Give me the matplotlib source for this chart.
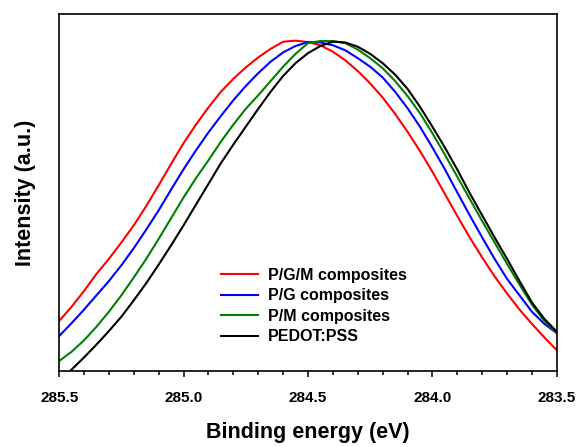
import numpy as np
import matplotlib.pyplot as plt

plt.rcParams['font.family'] = ['Liberation Sans', 'DejaVu Sans']
plt.rcParams['font.weight'] = 'bold'

# binding energy (eV), 0.05 eV step from 285.5 down to 283.5
energy = [285.50, 285.45, 285.40, 285.35, 285.30, 285.25, 285.20, 285.15, 285.10, 285.05,
          285.00, 284.95, 284.90, 284.85, 284.80, 284.75, 284.70, 284.65, 284.60, 284.55,
          284.50, 284.45, 284.40, 284.35, 284.30, 284.25, 284.20, 284.15, 284.10, 284.05,
          284.00, 283.95, 283.90, 283.85, 283.80, 283.75, 283.70, 283.65, 283.60, 283.55,
          283.50]

# normalised intensities
pgm = [0.140, 0.180, 0.224, 0.272, 0.314, 0.360, 0.408, 0.462, 0.520, 0.580,
       0.638, 0.690, 0.738, 0.782, 0.818, 0.850, 0.878, 0.902, 0.922, 0.925,
       0.921, 0.912, 0.894, 0.870, 0.840, 0.805, 0.766, 0.720, 0.670, 0.616,
       0.558, 0.496, 0.434, 0.374, 0.318, 0.265, 0.217, 0.172, 0.132, 0.094,
       0.058]
pg = [0.098, 0.134, 0.172, 0.212, 0.252, 0.296, 0.344, 0.396, 0.450, 0.508,
      0.565, 0.618, 0.668, 0.714, 0.758, 0.798, 0.834, 0.866, 0.892, 0.910,
      0.921, 0.920, 0.912, 0.898, 0.876, 0.852, 0.822, 0.782, 0.736, 0.684,
      0.626, 0.565, 0.500, 0.436, 0.374, 0.314, 0.258, 0.212, 0.166, 0.132,
      0.106]
pm = [0.028, 0.054, 0.086, 0.124, 0.166, 0.212, 0.262, 0.314, 0.370, 0.428,
      0.486, 0.540, 0.590, 0.642, 0.690, 0.734, 0.772, 0.812, 0.852, 0.888,
      0.918, 0.924, 0.924, 0.918, 0.900, 0.876, 0.848, 0.812, 0.770, 0.722,
      0.666, 0.606, 0.544, 0.482, 0.420, 0.360, 0.300, 0.242, 0.186, 0.140,
      0.106]
pedot = [-0.030, 0.004, 0.038, 0.074, 0.112, 0.152, 0.198, 0.246, 0.298, 0.352,
         0.408, 0.466, 0.524, 0.582, 0.634, 0.684, 0.734, 0.782, 0.826, 0.862,
         0.890, 0.910, 0.922, 0.920, 0.908, 0.888, 0.862, 0.830, 0.790, 0.740,
         0.684, 0.626, 0.564, 0.498, 0.436, 0.374, 0.314, 0.252, 0.192, 0.146,
         0.110]

labels = ['P/G/M composites', 'P/G composites', 'P/M composites', 'PEDOT:PSS']
colors = ['#ff0000', '#0000ff', '#008000', '#000000']

fig = plt.figure(figsize=(5.8, 4.47), dpi=100)
ax = fig.add_axes([0.102, 0.170, 0.858, 0.799])

for y, lab, c in zip([pgm, pg, pm, pedot], labels, colors):
    ax.plot(energy, y, color=c, linewidth=1.5, label=lab)

ax.set_xlim(285.5, 283.5)
ax.set_ylim(0, 1)
ax.set_xticks([285.5, 285.0, 284.5, 284.0, 283.5])
ax.set_xticklabels(['285.5', '285.0', '284.5', '284.0', '283.5'])
ax.set_xticks(np.arange(283.5, 285.55, 0.1), minor=True)
ax.set_yticks([])

ax.tick_params(axis='x', which='major', direction='out', length=4.5, width=1.1,
               labelsize=11, pad=10)
ax.tick_params(axis='x', which='minor', direction='out', length=3, width=1.1)
for s in ax.spines.values():
    s.set_linewidth(1.2)

ax.set_xlabel('Binding energy (eV)', fontsize=15.5, fontweight='bold', labelpad=12)
ax.set_ylabel('Intensity (a.u.)', fontsize=15.5, fontweight='bold', labelpad=17)

ax.legend(loc='center', bbox_to_anchor=(0.512, 0.182), frameon=False,
          handlelength=2.3, handletextpad=0.65, labelspacing=0.35,
          prop={'weight': 'bold', 'size': 11.5})

fig.savefig('out.png', dpi=100)
